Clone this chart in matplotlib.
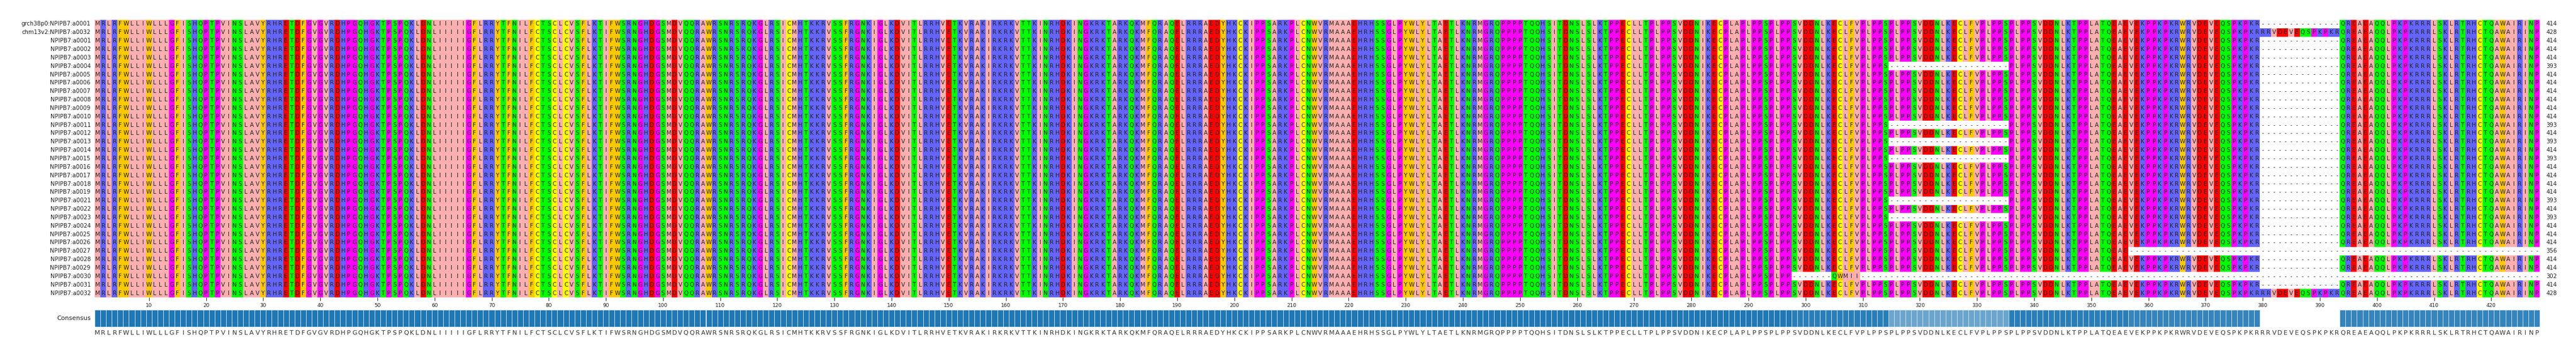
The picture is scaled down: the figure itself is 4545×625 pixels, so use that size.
import numpy as np
import matplotlib
matplotlib.use("Agg")
import matplotlib.pyplot as plt
from matplotlib.colors import to_rgb
from collections import Counter

# consensus / reference residues, read left to right
consensus = (
    "MRLRFWLLIWLLLGFISHQPTPVINSLAVYRHRETDFGVGVRDHPGQHGKTPSPQKLDNLIIIIIGFLRRYT"
    "FNILFCTSCLCVSFLKTIFWSRNGHDGSMDVQQRAWRSNRSRQKGLRSICMHTKKRVSSFRGNKIGLKDVI"
    "TLRRHVETKVRAKIRKRKVTTKINRHDKINGKRKTARKQKMFQRAQELRRRAEDYHKCKIPPSARKPLCNWV"
    "RMAAAEHRHSSGLPYWLYLTAETLKNRMGRQPPPPTQQHSITDNSLSLKTPPECLLTPLPPSVDDNIKECP"
    "LAPLPPSPLPPSVDDNLKECLFVPLPPSPLPPSVDDNLKECLFVPLPPSPLPPSVDDNLKTPPLATQEAEVE"
    "KPPKPKRWRVDEVEQSPKPKRRRVDEVEQSPKPKRQREAEAQQLPKPKRRRLSKLRTRHCTQAWAIRINP"
)

labels = (["grch38p0:NPIPB7:a0001", "chm13v2:NPIPB7:a0032"]
          + ["NPIPB7:a%04d" % i for i in range(1, 33) if i != 20])

# gap blocks per row (0-based start col, end col exclusive)
insertion = (379, 393)          # only present in the 428 aa forms
deletion = (314, 335)           # 21 aa deletion in the 393 aa forms
full_rows = [1, 32]
del_rows = [5, 12, 14, 16, 21, 23]
trunc_row, trunc_end = 27, 356
odd_row, odd_keep, odd_tail_start, odd_tail = 30, 297, 304, "QWMII"

ncol = len(consensus)
seqs = []
for r in range(len(labels)):
    s = list(consensus)
    if r not in full_rows:
        for c in range(*insertion):
            s[c] = "-"
    if r in del_rows:
        for c in range(*deletion):
            s[c] = "-"
    if r == trunc_row:
        for c in range(trunc_end, ncol):
            s[c] = "-"
    if r == odd_row:
        for c in range(odd_keep, ncol):
            s[c] = "-"
        for k, a in enumerate(odd_tail):
            s[odd_tail_start + k] = a
    seqs.append("".join(s))

zappo = {}
for a in "ILVAM":
    zappo[a] = "#ffafaf"
for a in "FWY":
    zappo[a] = "#ffc800"
for a in "KRH":
    zappo[a] = "#6464ff"
for a in "DE":
    zappo[a] = "#ff0000"
for a in "STNQ":
    zappo[a] = "#00ff00"
for a in "PG":
    zappo[a] = "#ff00ff"
zappo["C"] = "#ffff00"
zappo["-"] = "#ffffff"

nrow = len(seqs)
img = np.array([[to_rgb(zappo[a]) for a in s] for s in seqs])

W, H = 4545, 625
fig = plt.figure(figsize=(W / 100, H / 100), dpi=100)
x0, x1 = 167, 4481
ax = fig.add_axes([x0 / W, (H - 525) / H, (x1 - x0) / W, 490 / H])
ax.imshow(img, aspect="auto", interpolation="nearest",
          extent=(-0.5, ncol - 0.5, nrow - 0.5, -0.5))
for r, s in enumerate(seqs):
    for c, a in enumerate(s):
        ax.text(c, r, a, ha="center", va="center", fontsize=7.3,
                color="#333333" if a == "-" else "#222222")
    ax.text(-1.2, r, labels[r], ha="right", va="center", fontsize=7.3,
            color="#222222")
    ax.text(ncol + 1.6, r, str(sum(a != "-" for a in s)), ha="center",
            va="center", fontsize=7.3, color="#222222")
ax.set_xlim(-0.5, ncol - 0.5)
ax.set_ylim(nrow - 0.5, -0.5)
for sp in ax.spines.values():
    sp.set_visible(False)
ax.set_yticks([])
ticks = list(range(10, ncol + 1, 10))
ax.set_xticks([t - 1 for t in ticks])
ax.set_xticklabels([str(t) for t in ticks], fontsize=6.5, color="#222222")
ax.tick_params(axis="x", length=4, width=0.7, pad=3, colors="#222222")

# consensus bars
cons, freq = [], []
for c in range(ncol):
    col = [s[c] for s in seqs if s[c] != "-"]
    a, n = Counter(col).most_common(1)[0]
    cons.append(a)
    freq.append(n / nrow)
freq = np.array(freq)
base = np.array(to_rgb("#1f77b4"))
cols = [tuple(base + (1 - base) * (1 - f) * 1.6) if f < 1 else tuple(base)
        for f in freq]
cols = [tuple(min(1, v) for v in cc) for cc in cols]

axc = fig.add_axes([x0 / W, (H - 577) / H, (x1 - x0) / W, 30 / H])
axc.bar(range(ncol), np.where(freq < 0.2, 0, 1.0), width=1.0, color=cols,
        edgecolor="#d8e6f0", linewidth=0.6)
axc.set_xlim(-0.5, ncol - 0.5)
axc.set_ylim(0, 1)
for sp in axc.spines.values():
    sp.set_visible(False)
axc.set_yticks([])
axc.set_xticks(range(ncol))
axc.set_xticklabels(cons, fontsize=8, color="#333333")
axc.tick_params(axis="x", length=0, pad=4)
axc.text(-1.2, 0.5, "Consensus", ha="right", va="center", fontsize=8,
         color="#222222")

fig.savefig("out.png", dpi=100)
